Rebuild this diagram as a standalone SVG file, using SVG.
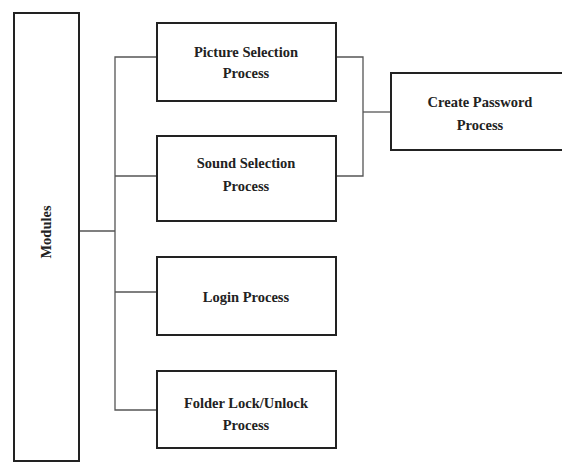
<svg xmlns="http://www.w3.org/2000/svg" width="562" height="462" viewBox="0 0 562 462">
<style>
.box{fill:#fff;stroke:#222;stroke-width:2}
.t{font-family:"Liberation Serif",serif;font-weight:bold;font-size:14.5px;fill:#222;text-anchor:middle}
.c{fill:none;stroke:#555;stroke-width:1.3}
</style>
<rect width="562" height="462" fill="#fff"/>
<g id="connectors">
<polyline class="c" points="79,231 115,231"/>
<polyline class="c" points="157,57 115,57 115,410 157,410"/>
<polyline class="c" points="115,176 157,176"/>
<polyline class="c" points="115,292 157,292"/>
<polyline class="c" points="336,57 363,57 363,176 336,176"/>
<polyline class="c" points="363,112 391,112"/>
</g>
<g id="modules">
<rect class="box" x="14" y="13" width="65" height="448"/>
<text class="t" transform="translate(51,232) rotate(-90)">Modules</text>
</g>
<g id="picture">
<rect class="box" x="157" y="23" width="179" height="78"/>
<text class="t" x="246" y="57">Picture Selection</text>
<text class="t" x="246" y="78">Process</text>
</g>
<g id="sound">
<rect class="box" x="157" y="136" width="179" height="85"/>
<text class="t" x="246" y="168">Sound Selection</text>
<text class="t" x="246" y="191">Process</text>
</g>
<g id="login">
<rect class="box" x="157" y="257" width="179" height="78"/>
<text class="t" x="246" y="302">Login Process</text>
</g>
<g id="folder">
<rect class="box" x="157" y="371" width="179" height="77"/>
<text class="t" x="246" y="408">Folder Lock/Unlock</text>
<text class="t" x="246" y="430">Process</text>
</g>
<g id="create">
<rect class="box" x="391" y="73" width="172" height="77"/>
<text class="t" x="480" y="107">Create Password</text>
<text class="t" x="480" y="130">Process</text>
</g>
</svg>
